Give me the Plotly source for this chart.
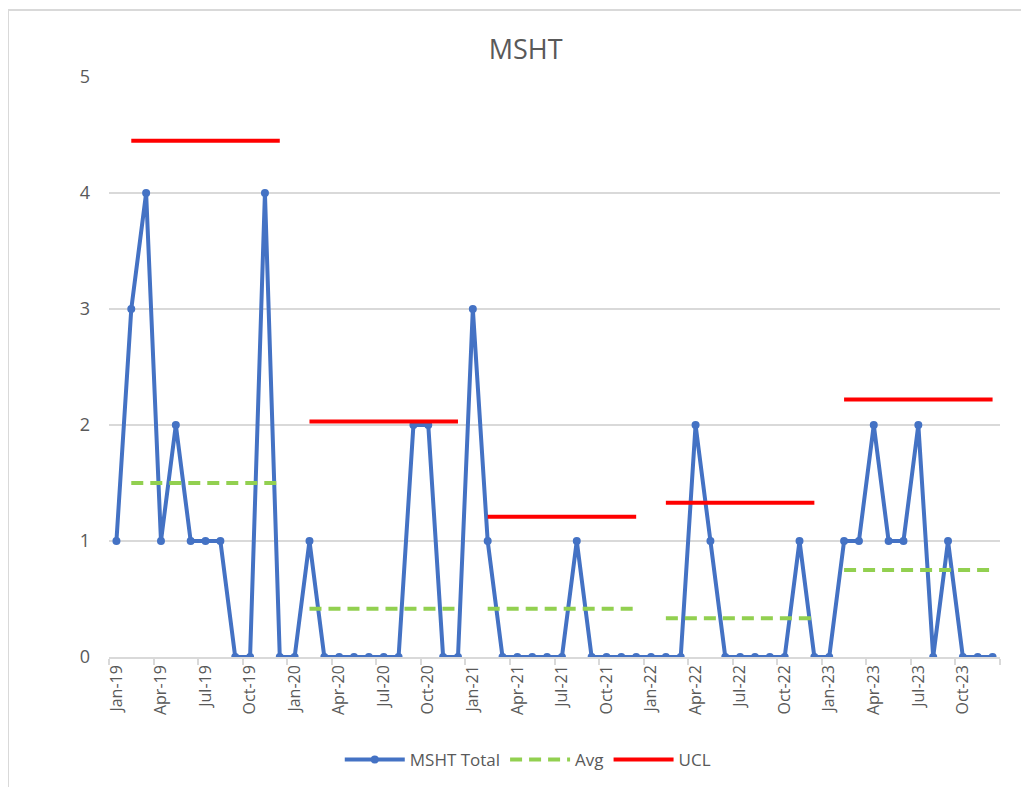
import plotly.graph_objects as go

months = ["Jan", "Feb", "Mar", "Apr", "May", "Jun", "Jul", "Aug", "Sep", "Oct", "Nov", "Dec"]
years = ["19", "20", "21", "22", "23"]
labels = [f"{m}-{y}" for y in years for m in months]

mstht_total = [1, 3, 4, 1, 2, 1, 1, 1, 0, 0, 4, 0,
               0, 1, 0, 0, 0, 0, 0, 0, 2, 2, 0, 0,
               3, 1, 0, 0, 0, 0, 0, 1, 0, 0, 0, 0,
               0, 0, 0, 2, 1, 0, 0, 0, 0, 0, 1, 0,
               0, 1, 1, 2, 1, 1, 2, 0, 1, 0, 0, 0]

avg_by_year = [1.5, 0.417, 0.417, 0.333, 0.75]
ucl_by_year = [4.45, 2.03, 1.21, 1.33, 2.22]

tick_labels = labels[::3]

x_idx = list(range(len(labels)))

def segment_series(vals):
    xs, ys = [], []
    for i, v in enumerate(vals):
        xs += [i * 12 + 1, i * 12 + 11, None]
        ys += [v, v, None]
    return xs, ys

fig = go.Figure()

fig.add_trace(go.Scatter(
    x=x_idx, y=mstht_total, mode="lines+markers", name="MSHT Total",
    line=dict(color="#4472C4", width=4),
    marker=dict(color="#4472C4", size=8),
))
ax, ay = segment_series(avg_by_year)
fig.add_trace(go.Scatter(
    x=ax, y=ay, mode="lines", name="Avg",
    line=dict(color="#92D050", width=4, dash="12px,7px"),
))
ux, uy = segment_series(ucl_by_year)
fig.add_trace(go.Scatter(
    x=ux, y=uy, mode="lines", name="UCL",
    line=dict(color="#FF0000", width=4),
))

font_family = "Open Sans, Liberation Sans, sans-serif"

fig.update_layout(
    width=1029, height=787,
    margin=dict(l=101, r=37, t=69, b=138),
    paper_bgcolor="white", plot_bgcolor="white",
    title=dict(text="MSHT", x=0.503, xanchor="center", y=(787 - 42) / 787, yanchor="middle",
               font=dict(family=font_family, size=27, color="#595959")),
    font=dict(family=font_family, color="#595959"),
    showlegend=True,
    legend=dict(orientation="h", x=0.47, xanchor="center", y=(649 - 752) / 580, yanchor="middle",
                font=dict(size=17, color="#595959"), itemwidth=60),
    xaxis=dict(
        range=[-0.5, 59.5], tickmode="array",
        tickvals=x_idx[::3], ticktext=tick_labels,
        tickangle=-90, tickfont=dict(size=16, color="#595959"),
        showgrid=False, zeroline=False, ticks="",
        showline=True, linecolor="#D9D9D9", linewidth=1.5,
        minor=dict(tickmode="linear", tick0=-0.5, dtick=3, ticks="outside",
                   ticklen=6, tickcolor="#D9D9D9", tickwidth=1.5, showgrid=False),
    ),
    yaxis=dict(
        range=[0, 5], dtick=1, showgrid=True, gridcolor="#D9D9D9", gridwidth=1.5,
        zeroline=False, tickfont=dict(size=18, color="#595959"),
        ticks="", ticklen=0, ticklabelstandoff=18,
    ),
    shapes=[dict(type="rect", xref="paper", yref="paper",
                 x0=(8 - 109) / 891, x1=(1040 - 109) / 891,
                 y0=(657 - 800) / 580, y1=(657 - 10) / 580,
                 line=dict(color="#D9D9D9", width=2), layer="below")],
)

fig.write_html("out.html")
